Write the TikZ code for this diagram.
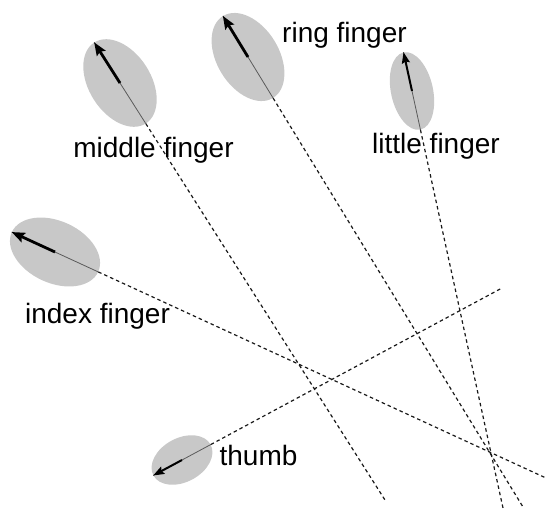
\documentclass[tikz,border=0pt]{standalone}
\usepackage{fontspec}
\setmainfont{Liberation Sans}
\usetikzlibrary{shapes.geometric,arrows.meta}
\definecolor{padgray}{RGB}{200,200,200}
\definecolor{axisgray}{RGB}{90,90,90}
\definecolor{raygray}{RGB}{25,25,25}
\begin{document}
\begin{tikzpicture}[x=1pt,y=-1pt,
  pad/.style={ellipse, fill=padgray, draw=none, inner sep=0pt},
  lbl/.style={font=\fontsize{28}{34}\selectfont, inner sep=0pt, anchor=base},
  axisline/.style={draw=axisgray, line width=0.8pt},
  dirarrow/.style={line width=2.8pt, -{Stealth[length=13pt,width=10pt,inset=2pt]}},
  smallarrow/.style={line width=2pt, -{Stealth[length=11pt,width=8pt,inset=1.5pt]}},
  ray/.style={draw=raygray, dash pattern=on 3.5pt off 3pt, line width=1.2pt}]
\useasboundingbox (0,0) rectangle (547,515);

% pads
\node[pad, minimum width=96pt, minimum height=62pt, rotate=-57.56] (mid) at (120,83) {};
\node[pad, minimum width=96pt, minimum height=62pt, rotate=-58.57] (ring) at (248,57) {};
\node[pad, minimum width=79pt, minimum height=42pt, rotate=-77.69] (lit) at (412,91) {};
\node[pad, minimum width=95pt, minimum height=62pt, rotate=-24.72] (idx) at (55,252) {};
\node[pad, minimum width=65pt, minimum height=44pt, rotate=28.26] (thb) at (182,460) {};

% ray ends
\coordinate (midend) at (385,500);
\coordinate (ringend) at (523,507);
\coordinate (litend) at (503,508);
\coordinate (idxend) at (546,478);
\coordinate (thbend) at (502,288);

% axes inside pads
\foreach \p in {mid,ring,lit,idx,thb}{
  \draw[axisline] (\p.west) -- (\p.east);
}
% rays
\draw[ray] (mid.east) -- (midend);
\draw[ray] (ring.east) -- (ringend);
\draw[ray] (lit.east) -- (litend);
\draw[ray] (idx.east) -- (idxend);
\draw[ray] (thb.east) -- (thbend);

% direction arrows
\draw[dirarrow] (mid.center) -- (mid.west);
\draw[dirarrow] (ring.center) -- (ring.west);
\draw[smallarrow] (lit.center) -- (lit.west);
\draw[dirarrow] (idx.center) -- (idx.west);
\draw[smallarrow] (thb.center) -- (thb.west);

% labels
\node[lbl] (ringlbl) at (344.5,42) {ring finger};
\node[lbl] (midlbl) at (153.5,157) {middle finger};
\node[lbl] (litlbl) at (436,153) {little finger};
\node[lbl] (idxlbl) at (97.5,323) {index finger};
\node[lbl] (thblbl) at (258.5,465) {thumb};
\end{tikzpicture}
\end{document}
